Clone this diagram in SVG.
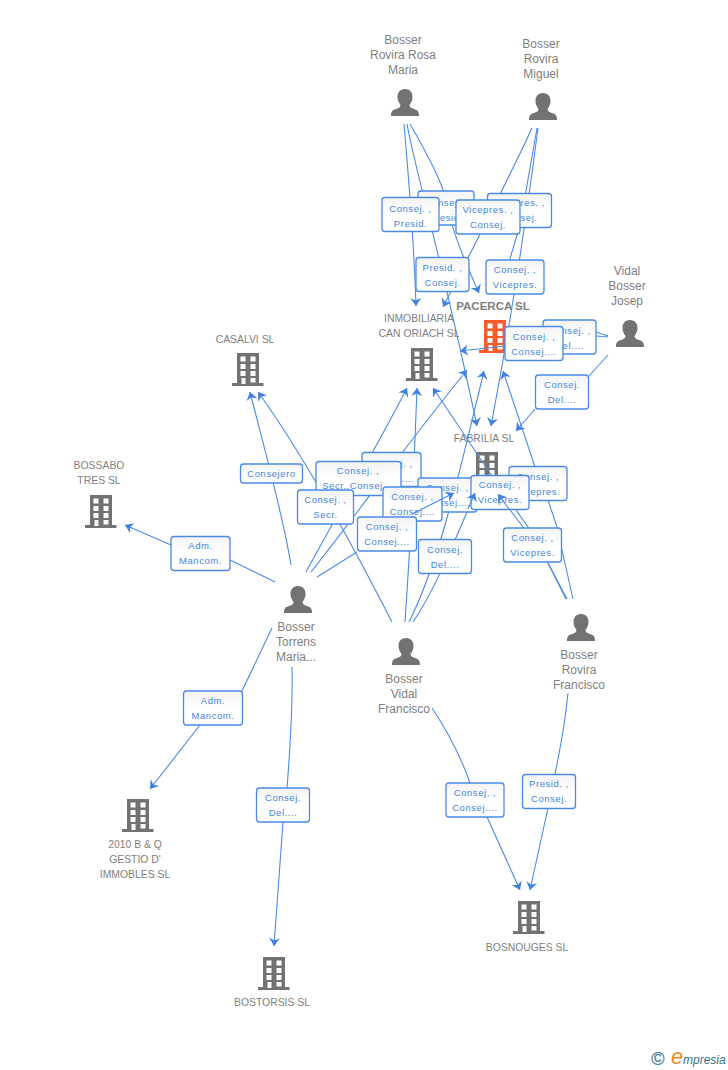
<svg xmlns="http://www.w3.org/2000/svg" xmlns:xlink="http://www.w3.org/1999/xlink" width="728" height="1070" viewBox="0 0 728 1070">
<style>
text{font-family:"Liberation Sans",Arial,sans-serif}
.n{font-size:12px;fill:#808080;text-anchor:middle}
.b{font-size:10.400px;fill:#808080;text-anchor:middle}
.l{font-size:9.500px;fill:#4485e4;text-anchor:middle;letter-spacing:.55px}
.box{fill:url(#g);stroke:#4a8ae6;stroke-width:1.3}
.c{fill:none;stroke:#4a8ae6;stroke-width:1.1;marker-end:url(#a)}
.d{fill:none;stroke:#4a8ae6;stroke-width:1.1}
</style>
<defs>
<linearGradient id="g" x1="0" y1="0" x2="0" y2="1"><stop offset="0" stop-color="#f3f3f3"/><stop offset=".5" stop-color="#fff"/></linearGradient>
<marker id="a" markerUnits="userSpaceOnUse" markerWidth="12" markerHeight="12" refX="10" refY="5.500" orient="auto"><path d="M2 0L10 5.500L2 11L4.500 5.500Z" fill="#3f80e0"/></marker>
<g id="bld"><path fill-rule="evenodd" d="M-11 0H11V30H15.500V33H-16V30H-11ZM-7.500 3.500V8.500H-2.500V3.500ZM2.500 3.500V8.500H7.500V3.500ZM-7.500 11V16H-2.500V11ZM2.500 11V16H7.500V11ZM-7.500 18V23H-2.500V18ZM2.500 18V23H7.500V18ZM-6.500 25V31H-2.500V25ZM2.500 25V29.500H7.500V25Z"/></g>
<path id="psn" d="M0 0C-5.500 0-7.500 4-7.500 8C-7.500 11-6.500 13-4.500 16C-4.500 18-6 19-9 20C-13 21-14 23-14 27H14C14 23 13 21 9 20C6 19 4.500 18 4.500 16C6.500 13 7.500 11 7.500 8C7.500 4 5.500 0 0 0Z" fill="#727272"/>
</defs>
<g id="nodes">
<g id="n-rosa"><use href="#psn" x="405" y="89"/><text class="n" x="403" y="44">Bosser</text><text class="n" x="403" y="59">Rovira Rosa</text><text class="n" x="403" y="74">Maria</text></g>
<g id="n-miguel"><use href="#psn" x="543" y="93"/><text class="n" x="541" y="48">Bosser</text><text class="n" x="541" y="63">Rovira</text><text class="n" x="541" y="78">Miguel</text></g>
<g id="n-josep"><use href="#psn" x="630" y="320"/><text class="n" x="627" y="275">Vidal</text><text class="n" x="627" y="290">Bosser</text><text class="n" x="627" y="305">Josep</text></g>
<g id="n-torrens"><use href="#psn" x="298" y="586"/><text class="n" x="296" y="631">Bosser</text><text class="n" x="296" y="646">Torrens</text><text class="n" x="296" y="661">Maria...</text></g>
<g id="n-francisco"><use href="#psn" x="406" y="638"/><text class="n" x="404" y="683">Bosser</text><text class="n" x="404" y="698">Vidal</text><text class="n" x="404" y="713">Francisco</text></g>
<g id="n-rfrancisco"><use href="#psn" x="581" y="614"/><text class="n" x="579" y="659">Bosser</text><text class="n" x="579" y="674">Rovira</text><text class="n" x="579" y="689">Francisco</text></g>
<g id="n-pacerca"><use href="#bld" x="495" y="320" fill="#fb5a2b"/><text x="493" y="310" text-anchor="middle" font-size="11.500" font-weight="bold" fill="#808080">PACERCA SL</text></g>
<g id="n-inmo"><use href="#bld" x="422" y="348" fill="#727272"/><text class="b" x="419" y="322">INMOBILIARIA</text><text class="b" x="419" y="337">CAN ORIACH SL</text></g>
<g id="n-casalvi"><use href="#bld" x="248" y="353" fill="#727272"/><text class="b" x="245" y="343">CASALVI SL</text></g>
<g id="n-fabrilia"><use href="#bld" x="487" y="452" fill="#727272"/><text class="b" x="484" y="442">FABRILIA SL</text></g>
<g id="n-bossabo"><use href="#bld" x="101" y="495" fill="#727272"/><text class="b" x="99" y="469">BOSSABO</text><text class="b" x="99" y="484">TRES SL</text></g>
<g id="n-2010"><use href="#bld" x="138" y="799" fill="#727272"/><text class="b" x="135" y="848">2010 B &amp; Q</text><text class="b" x="135" y="863">GESTIO D'</text><text class="b" x="135" y="878">IMMOBLES SL</text></g>
<g id="n-bostorsis"><use href="#bld" x="274" y="957" fill="#727272"/><text class="b" x="272" y="1006">BOSTORSIS SL</text></g>
<g id="n-bosnouges"><use href="#bld" x="529" y="901" fill="#727272"/><text class="b" x="527" y="951">BOSNOUGES SL</text></g>
</g>
<g id="connectors">
<path class="c" d="M404 124C408 170 414 240 416 306"/>
<path class="c" d="M410 124C425 150 438 175 443 190C450 225 462 255 479 293"/>
<path class="c" d="M407 124C415 170 440 250 477 426"/>
<path class="c" d="M532 128C515 165 485 225 443 307"/>
<path class="c" d="M538 128C530 190 515 300 491 426"/>
<path class="d" d="M537 128C533 150 529 175 520 225L509 262"/>
<path class="d" d="M608 336L596 332"/>
<path class="d" d="M608 337L563 333"/>
<path class="c" d="M505 346L460 351"/>
<path class="d" d="M608 355L589 376"/>
<path class="c" d="M535 409L516 431"/>
<path class="d" d="M275 582L230 560"/>
<path class="c" d="M171 545L125 525"/>
<path class="c" d="M291 565C282 510 262 440 250 392"/>
<path class="c" d="M392 622C350 540 300 450 258 392"/>
<path class="c" d="M306 572C340 510 375 450 407 388"/>
<path class="c" d="M311 572C360 510 410 440 467 370"/>
<path class="d" d="M317 577L357 552"/>
<path class="c" d="M405 622C410 550 414 470 417 388"/>
<path class="c" d="M409 622C440 560 460 470 484 371"/>
<path class="c" d="M413 622C435 590 455 540 475 493"/>
<path class="c" d="M566 599L548 563L528 527L490 473L433 388"/>
<path class="c" d="M567 599L548 563L523 527L498 494"/>
<path class="c" d="M573 599L562 550L557 527L548 500L535 467L503 371"/>
<path class="d" d="M272 628L242 691"/>
<path class="c" d="M200 725L150 789"/>
<path class="d" d="M292 667C293 710 290 750 287 788"/>
<path class="c" d="M283 822L274 946"/>
<path class="d" d="M432 708C450 735 462 760 470 783"/>
<path class="c" d="M487 817L520 890"/>
<path class="d" d="M568 693C565 725 560 750 555 774"/>
<path class="c" d="M548 808L530 890"/>
</g>
<g id="labels">
<g><rect class="box" x="418" y="191" width="56" height="34" rx="3"/><text class="l" x="446" y="206">Consej. ,</text><text class="l" x="446" y="221">Presid.</text></g>
<g><rect class="box" x="382" y="197.500" width="57" height="34" rx="3"/><text class="l" x="410.500" y="212">Consej. ,</text><text class="l" x="410.500" y="227">Presid.</text></g>
<g><rect class="box" x="487.500" y="193.500" width="64" height="34" rx="3"/><text class="l" x="519.500" y="206">Vicepres. ,</text><text class="l" x="519.500" y="221">Consej.</text></g>
<g><rect class="box" x="456" y="200" width="64" height="34" rx="3"/><text class="l" x="488" y="213">Vicepres. ,</text><text class="l" x="488" y="228">Consej.</text></g>
<g><rect class="box" x="416" y="257.500" width="53" height="34" rx="3"/><text class="l" x="442.500" y="271">Presid. ,</text><text class="l" x="442.500" y="286">Consej.</text></g>
<g><rect class="box" x="486" y="260" width="58" height="34" rx="3"/><text class="l" x="515" y="273">Consej. ,</text><text class="l" x="515" y="288">Vicepres.</text></g>
<g><rect class="box" x="543" y="320" width="53" height="34" rx="3"/><text class="l" x="569.500" y="334">Consej. ,</text><text class="l" x="569.500" y="349">Del....</text></g>
<g><rect class="box" x="505" y="326.500" width="58" height="34" rx="3"/><text class="l" x="534" y="340">Consej. ,</text><text class="l" x="534" y="355">Consej....</text></g>
<g><rect class="box" x="535.500" y="375" width="53" height="34" rx="3"/><text class="l" x="562" y="388">Consej.</text><text class="l" x="562" y="403">Del....</text></g>
<g><rect class="box" x="362" y="452.500" width="59" height="34" rx="3"/><text class="l" x="391.500" y="467">Consej. ,</text><text class="l" x="391.500" y="482">Consej....</text></g>
<g><rect class="box" x="509" y="466.500" width="58" height="34" rx="3"/><text class="l" x="538" y="480">Consej. ,</text><text class="l" x="538" y="495">Vicepres.</text></g>
<g><rect class="box" x="316" y="461.500" width="85" height="34" rx="3"/><text class="l" x="358" y="474">Consej. ,</text><text class="l" x="354" y="489">Secr.,Consej.</text></g>
<g><rect class="box" x="418" y="478" width="59" height="34" rx="3"/><text class="l" x="447.500" y="491">Consej. ,</text><text class="l" x="447.500" y="506">Consej....</text></g>
<g><rect class="box" x="383" y="487" width="59" height="34" rx="3"/><text class="l" x="412.500" y="500">Consej. ,</text><text class="l" x="412.500" y="515">Consej....</text></g>
<g><rect class="box" x="471" y="475.500" width="58" height="34" rx="3"/><text class="l" x="500" y="488">Consej. ,</text><text class="l" x="500" y="503">Vicepres.</text></g>
<g><rect class="box" x="297.500" y="490" width="56" height="34" rx="3"/><text class="l" x="325.500" y="503">Consej. ,</text><text class="l" x="325.500" y="518">Secr.</text></g>
<g><rect class="box" x="357.500" y="517" width="59" height="34" rx="3"/><text class="l" x="387" y="530">Consej. ,</text><text class="l" x="387" y="545">Consej....</text></g>
<g><rect class="box" x="418.500" y="539.500" width="53" height="34" rx="3"/><text class="l" x="445" y="553">Consej.</text><text class="l" x="445" y="568">Del....</text></g>
<g><rect class="box" x="503.500" y="528" width="58" height="34" rx="3"/><text class="l" x="532.500" y="541">Consej. ,</text><text class="l" x="532.500" y="556">Vicepres.</text></g>
<g><rect class="box" x="240.500" y="464" width="62" height="19" rx="3"/><text class="l" x="271.500" y="477">Consejero</text></g>
<g><rect class="box" x="171" y="536.500" width="59" height="34" rx="3"/><text class="l" x="200.500" y="549">Adm.</text><text class="l" x="200.500" y="564">Mancom.</text></g>
<g><rect class="box" x="183.500" y="691" width="59" height="34" rx="3"/><text class="l" x="213" y="704">Adm.</text><text class="l" x="213" y="719">Mancom.</text></g>
<g><rect class="box" x="256.500" y="788" width="53" height="34" rx="3"/><text class="l" x="283" y="801">Consej.</text><text class="l" x="283" y="816">Del....</text></g>
<g><rect class="box" x="446" y="783" width="58" height="34" rx="3"/><text class="l" x="475" y="796">Consej. ,</text><text class="l" x="475" y="811">Consej....</text></g>
<g><rect class="box" x="522.500" y="774.500" width="53" height="34" rx="3"/><text class="l" x="549" y="787">Presid. ,</text><text class="l" x="549" y="802">Consej.</text></g>
</g>
<g id="connectors-over-labels">
<path class="c" d="M412 514L454 493"/>
<path class="c" d="M468 509L475 493"/>
<path class="c" d="M509 509L498 494"/>
</g>
<g id="logo"><text x="658" y="1065" text-anchor="middle" font-size="18" fill="#4a7f9c" stroke="#4a7f9c" stroke-width=".3">©</text><text x="671" y="1064" font-size="22" font-style="italic" fill="#f08a1c">e</text><text x="683" y="1064" font-size="12" font-style="italic" fill="#35708f">mpresia</text></g>
</svg>
